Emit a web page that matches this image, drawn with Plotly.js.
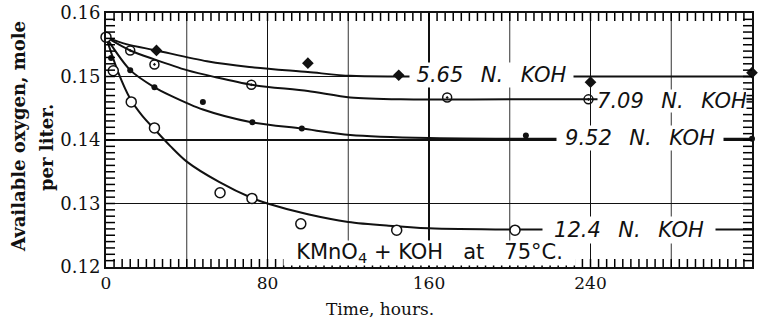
<!DOCTYPE html>
<html>
<head>
<meta charset="utf-8">
<script src="https://cdn.plot.ly/plotly-3.0.1.min.js"></script>
<style>
html,body{margin:0;padding:0;background:#fff;}
#chart{width:763px;height:321px;}
</style>
</head>
<body>
<div id="chart"></div>
<script>
// ---- data ----
// 5.65 N KOH (filled diamonds)
const ptHours565 = [25, 100, 145, 240, 320];
const ptVals565  = [0.1541, 0.1521, 0.1502, 0.1491, 0.1506];
const curveHours565 = [0, 10, 25, 50, 71, 100, 121, 145, 200, 320];
const curveVals565  = [0.1562, 0.1551, 0.1541, 0.1524, 0.1515, 0.1507, 0.1501, 0.1500, 0.1500, 0.1500];

// 7.09 N KOH (circled dots)
const ptHours709 = [12, 24, 72, 169, 239, 321];
const ptVals709  = [0.1541, 0.1519, 0.1487, 0.1467, 0.1464, 0.1464];
const curveHours709 = [0, 12, 24, 40, 54, 72, 100, 121, 146, 200, 320];
const curveVals709  = [0.1562, 0.1541, 0.1527, 0.1510, 0.1499, 0.1487, 0.1477, 0.1467, 0.1464, 0.1464, 0.1464];

// 9.52 N KOH (small filled dots)
const ptHours952 = [2.5, 12, 24, 48, 72.5, 97, 208, 320];
const ptVals952  = [0.1529, 0.1510, 0.1483, 0.1460, 0.1428, 0.1418, 0.1407, 0.1402];
const curveHours952 = [0, 12, 24, 32, 48, 72, 97, 121, 160, 200, 320];
const curveVals952  = [0.1562, 0.1510, 0.1483, 0.1470, 0.1448, 0.1428, 0.1418, 0.1408, 0.1403, 0.1402, 0.1402];

// 12.4 N KOH (open circles)
const ptHours124 = [0, 3.6, 12.5, 24, 56.5, 72.3, 96.5, 144, 202.6, 321];
const ptVals124  = [0.1562, 0.1509, 0.1460, 0.1419, 0.1317, 0.1308, 0.1268, 0.1258, 0.1258, 0.1248];
const curveHours124 = [0, 6, 12, 18, 24, 32, 40, 56, 72, 80, 100, 120, 140, 160, 200, 320];
const curveVals124  = [0.1562, 0.1507, 0.1465, 0.1438, 0.1417, 0.1390, 0.1366, 0.1334, 0.1309, 0.1300, 0.1283, 0.1271, 0.1265, 0.1261, 0.1259, 0.1259];

// axes
const xRange = [0, 320];
const yRange = [0.12, 0.16];
const xLabelStep = 80;      // labelled ticks / main grid
const xSubGrid = [40, 120, 200, 280];   // secondary vertical grid lines
const xMinorStep = 4;       // hours between small ticks
const yMinorStep = 0.001;   // small ticks on the value axis

// texts
const seriesLabels = ['5.65', '7.09', '9.52', '12.4'];
const unitText = 'N.';
const baseText = 'KOH';
const conditionText = 'KMnO<sub>4</sub>\u00a0+\u00a0KOH\u00a0\u00a0\u00a0at\u00a0\u00a0\u00a075\u00b0C.';
const xTitle = 'Time, hours.';
const yTitle1 = 'Available oxygen, mole';
const yTitle2 = 'per liter.';

// ---- chart ----
const W = 763, H = 321, M = {l:106, r:11, t:13, b:54};
const plotW = W - M.l - M.r, plotH = H - M.t - M.b;
const gap = '\u00a0\u00a0\u2009';
function lbl(i){ return seriesLabels[i] + gap + unitText + gap + baseText; }

const lineStyle = {color:'#111', width:2, shape:'spline', smoothing:0.8};
function curve(xs, ys){
  return {type:'scatter', x:xs, y:ys, mode:'lines', line:lineStyle, hoverinfo:'skip', showlegend:false, cliponaxis:false};
}
function pts(xs, ys, marker){
  return {type:'scatter', x:xs, y:ys, mode:'markers', marker:marker, showlegend:false, cliponaxis:false};
}

// small inside ticks on all four frame edges, each drawn as its own short segment
const xTickLen = 8 * (yRange[1]-yRange[0]) / plotH;   // 8 px, in value units
const yTickLen = 9 * (xRange[1]-xRange[0]) / plotW;   // 9 px, in hour units
const tickTraces = [];
const tickLine = {color:'#000', width:1.5, simplify:false};
const nx = Math.round((xRange[1]-xRange[0])/xMinorStep);
const xb = [], yb = [], xt = [], yt = [];
for (let i = 1; i < nx; i++){
  const h = xRange[0] + i*xMinorStep;
  xb.push(h, h, NaN); yb.push(yRange[0], yRange[0]+xTickLen, NaN);
  xt.push(h, h, NaN); yt.push(yRange[1], yRange[1]-xTickLen, NaN);
}
const ny = Math.round((yRange[1]-yRange[0])/yMinorStep);
const xl = [], yl = [], xr = [], yr = [];
for (let i = 1; i < ny; i++){
  const v = yRange[0] + i*yMinorStep;
  xl.push(xRange[0], xRange[0]+yTickLen, NaN); yl.push(v, v, NaN);
  xr.push(xRange[1], xRange[1]-yTickLen, NaN); yr.push(v, v, NaN);
}
[[xb,yb],[xt,yt],[xl,yl],[xr,yr]].forEach(function(p){
  tickTraces.push({type:'scatter', x:p[0], y:p[1], mode:'lines', connectgaps:false, hoverinfo:'skip',
                   showlegend:false, cliponaxis:false, line:tickLine});
});

const traces = [
  curve(curveHours565, curveVals565),
  curve(curveHours709, curveVals709),
  curve(curveHours952, curveVals952),
  curve(curveHours124, curveVals124),
  pts(ptHours565, ptVals565, {symbol:'diamond', size:9, color:'#111'}),
  pts(ptHours709, ptVals709, {symbol:'circle-open-dot', size:9, color:'#111', line:{width:1.5}}),
  pts(ptHours952, ptVals952, {symbol:'circle', size:6, color:'#111'}),
  pts(ptHours124, ptVals124, {symbol:'circle', size:10, color:'#fff', line:{color:'#111', width:1.5}})
].concat(tickTraces);

const shapes = xSubGrid.map(function(h){
  return {type:'line', layer:'below', xref:'x', yref:'paper', x0:h, x1:h, y0:0, y1:1,
          line:{color:'#333', width:1}};
});

const labFont = {family:'DejaVu Sans', size:21, color:'#111', style:'italic'};
function boxAnn(text, x, y, w, h, font){
  return {text:text, x:x, y:y, xref:'x', yref:'y', showarrow:false, xanchor:'center', yanchor:'middle',
          width:w, height:h, bgcolor:'#fff', borderpad:0, font:font || labFont};
}

const serif = 'DejaVu Serif, Liberation Serif, serif';
const layout = {
  width:W, height:H,
  margin:M,
  paper_bgcolor:'#fff', plot_bgcolor:'#fff',
  showlegend:false,
  xaxis:{
    range:xRange, tickmode:'linear', tick0:0, dtick:xLabelStep,
    showgrid:true, gridcolor:'#111', gridwidth:1.4, zeroline:false,
    showline:true, linecolor:'#111', linewidth:2, mirror:true,
    ticks:'', tickfont:{family:serif, size:17, color:'#111'}
  },
  yaxis:{
    range:yRange, tickmode:'linear', tick0:0.12, dtick:0.01, tickformat:'.2f',
    showgrid:true, gridcolor:'#111', gridwidth:1.4, zeroline:false,
    showline:true, linecolor:'#111', linewidth:2, mirror:true,
    ticks:'', tickfont:{family:serif, size:18, color:'#111'}
  },
  shapes:shapes,
  annotations:[
    boxAnn(lbl(0), 190.96, 0.15016, 163, 24),
    boxAnn(lbl(1), 280.4, 0.14622, 148, 22),
    boxAnn(lbl(2), 264.5, 0.14039, 166, 24),
    boxAnn(lbl(3), 259.1, 0.12575, 172, 26),
    boxAnn(conditionText, 160.2, 0.12213, 291, 24, {family:'DejaVu Sans', size:21, color:'#111'}),
    {text:xTitle, xref:'paper', yref:'paper', x:(380-106)/646, y:0, yshift:-42, showarrow:false, borderpad:0,
     xanchor:'center', yanchor:'middle', font:{family:serif, size:17, color:'#111'}},
    {text:yTitle1, xref:'paper', yref:'paper', x:0, y:0.5, xshift:-88, yshift:3, textangle:-90, showarrow:false,
     xanchor:'center', yanchor:'middle', font:{family:serif, size:18, color:'#111', weight:'bold'}},
    {text:yTitle2, xref:'paper', yref:'paper', x:0, y:0.5, xshift:-60, yshift:-8, textangle:-90, showarrow:false,
     xanchor:'center', yanchor:'middle', font:{family:serif, size:18, color:'#111', weight:'bold'}}
  ]
};

Plotly.newPlot('chart', traces, layout, {displayModeBar:false, staticPlot:true});
</script>
</body>
</html>
